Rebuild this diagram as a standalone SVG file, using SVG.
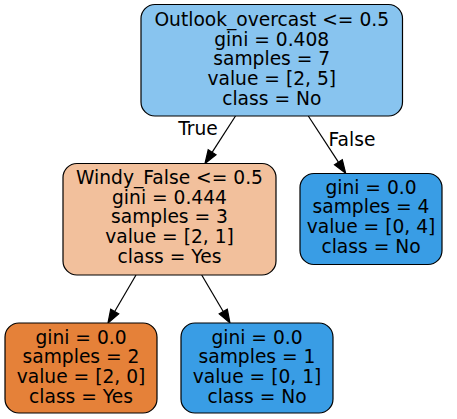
<svg xmlns="http://www.w3.org/2000/svg" width="457" height="419" viewBox="0 0 457 419">
<style>
.box{stroke:#000;stroke-width:1.2}
text{font-family:"DejaVu Sans","Liberation Sans",sans-serif;font-size:18.67px;fill:#000;text-anchor:middle}
.edge{stroke:#000;stroke-width:1.2;fill:none}
.head{fill:#000;stroke:#000;stroke-width:1.2}
</style>
<rect width="457" height="419" fill="#fff"/>
<g id="edges">
<line class="edge" x1="235.5" y1="116" x2="212.1" y2="152.3"/>
<polygon class="head" points="205,163.5 216,154.8 208.2,149.8"/>
<text x="198" y="135">True</text>
<line class="edge" x1="308.3" y1="116" x2="338.4" y2="162.2"/>
<polygon class="head" points="345.7,173.3 342.3,159.6 334.5,164.7"/>
<text x="352" y="145.5">False</text>
<line class="edge" x1="136" y1="275" x2="114.7" y2="311.5"/>
<polygon class="head" points="108,323 118.7,313.9 110.7,309.2"/>
<line class="edge" x1="201.7" y1="275" x2="223.2" y2="311.5"/>
<polygon class="head" points="230,323 227.3,309.2 219.2,313.9"/>
</g>
<g id="node0">
<rect class="box" x="141" y="4.5" width="261.5" height="111.5" rx="14" fill="#88c4ef"/>
<text x="271.75" y="26">Outlook_overcast &lt;= 0.5</text>
<text x="271.75" y="45.7">gini = 0.408</text>
<text x="271.75" y="65.4">samples = 7</text>
<text x="271.75" y="85.1">value = [2, 5]</text>
<text x="271.75" y="104.8">class = No</text>
</g>
<g id="node1">
<rect class="box" x="63" y="163.5" width="213" height="111.5" rx="14" fill="#f2c09c"/>
<text x="169.5" y="184">Windy_False &lt;= 0.5</text>
<text x="169.5" y="203.7">gini = 0.444</text>
<text x="169.5" y="223.4">samples = 3</text>
<text x="169.5" y="243.1">value = [2, 1]</text>
<text x="169.5" y="262.8">class = Yes</text>
</g>
<g id="node2">
<rect class="box" x="5" y="323" width="152" height="90" rx="14" fill="#e58139"/>
<text x="81" y="343.5">gini = 0.0</text>
<text x="81" y="363.2">samples = 2</text>
<text x="81" y="382.9">value = [2, 0]</text>
<text x="81" y="402.6">class = Yes</text>
</g>
<g id="node3">
<rect class="box" x="181" y="323" width="152" height="90" rx="14" fill="#399de5"/>
<text x="257" y="343.5">gini = 0.0</text>
<text x="257" y="363.2">samples = 1</text>
<text x="257" y="382.9">value = [0, 1]</text>
<text x="257" y="402.6">class = No</text>
</g>
<g id="node4">
<rect class="box" x="300" y="173.5" width="142" height="91" rx="14" fill="#399de5"/>
<text x="371" y="193.5">gini = 0.0</text>
<text x="371" y="213.2">samples = 4</text>
<text x="371" y="232.9">value = [0, 4]</text>
<text x="371" y="252.6">class = No</text>
</g>
</svg>
